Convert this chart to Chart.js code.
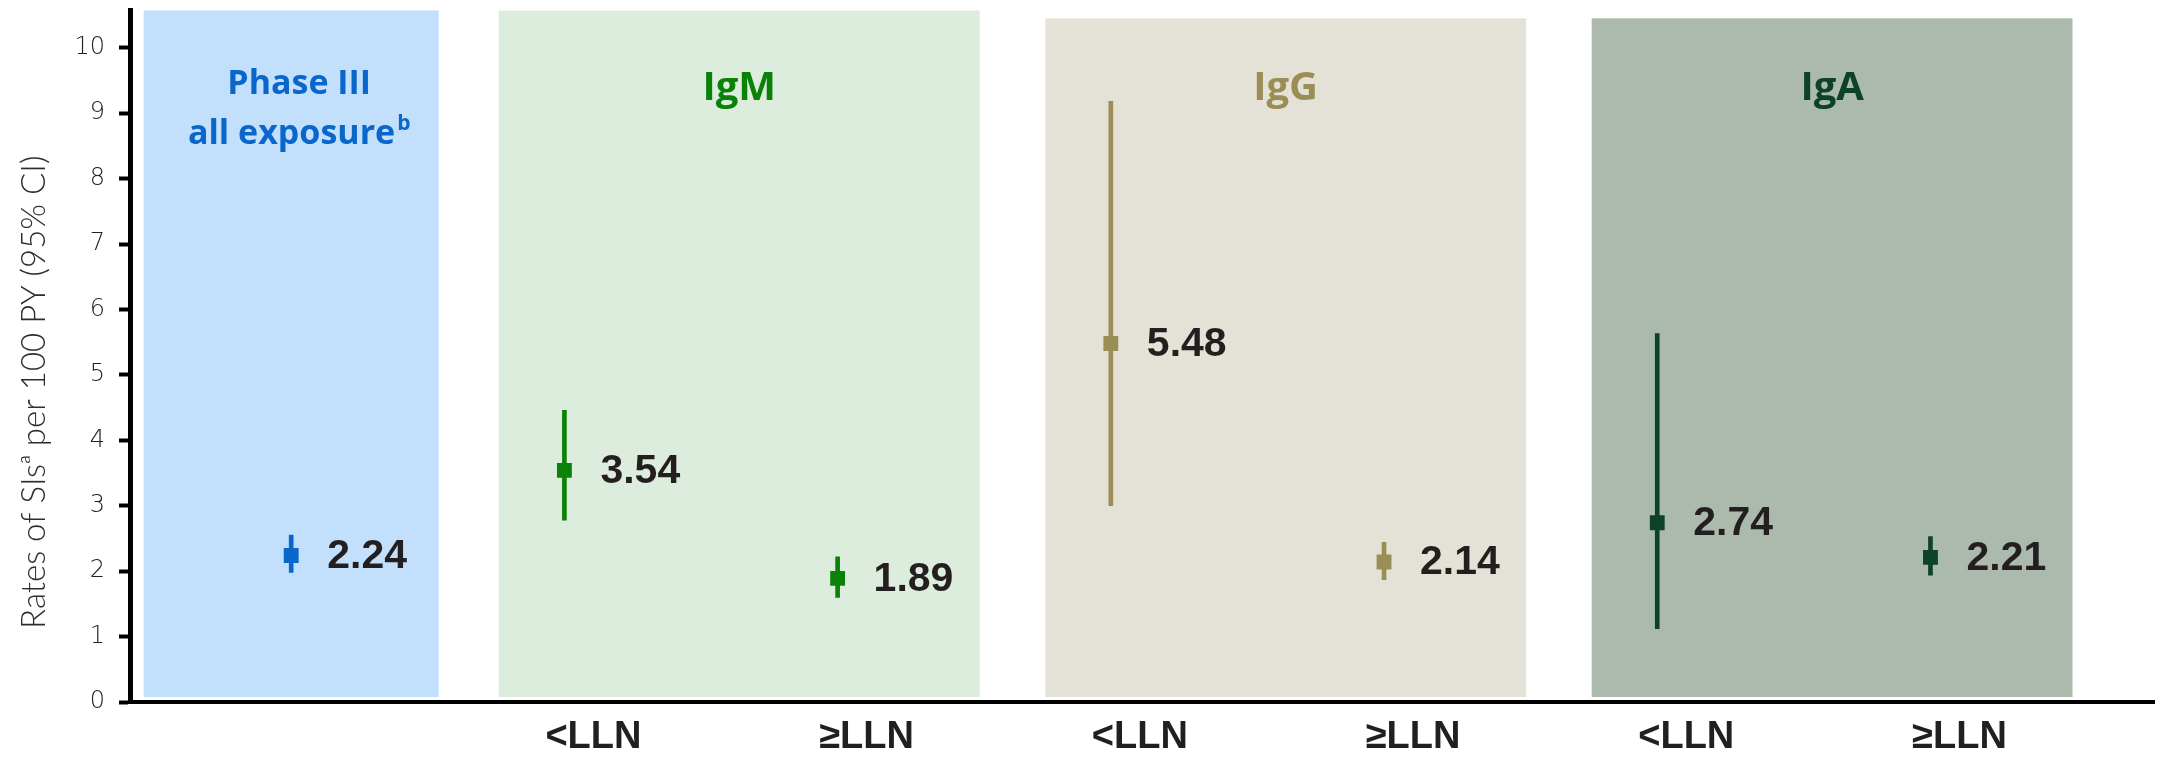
<!DOCTYPE html>
<html>
<head>
<meta charset="utf-8">
<script src="https://cdn.jsdelivr.net/npm/chart.js@4.4.1/dist/chart.umd.min.js"></script>
<style>
  html, body { margin: 0; padding: 0; background: #ffffff; }
  #wrap { width: 2165px; height: 757px; position: relative; }
</style>
</head>
<body>
<div id="wrap"><canvas id="chart"></canvas></div>
<script>
// ---- data ----
const groupTitles = [['Phase III', 'all exposure'], ['IgM'], ['IgG'], ['IgA']];
const groupNotes = ['b', '', '', ''];
const xLabels = ['', '<LLN', '\u2265LLN', '<LLN', '\u2265LLN', '<LLN', '\u2265LLN'];
const pointGroup = [0, 1, 1, 2, 2, 3, 3];
const rates = [2.24, 3.54, 1.89, 5.48, 2.14, 2.74, 2.21];
const ciLow = [1.98, 2.78, 1.60, 3.00, 1.87, 1.12, 1.94];
const ciHigh = [2.55, 4.46, 2.22, 9.18, 2.44, 5.63, 2.53];
const yTicks = [0, 1, 2, 3, 4, 5, 6, 7, 8, 9, 10];
const yTitle = 'Rates of SIs\u1d43 per 100 PY (95% CI)';

// ---- styles ----
const groupInk = ['#0b66cc', '#0a820a', '#9b8d56', '#0e4228'];
const groupFill = ['#c2dffc', '#dcedde', '#e4e2d6', '#abbaac'];
const groupTop = [10.57, 10.57, 10.45, 10.45];
const pointInk = pointGroup.map(g => groupInk[g]);
const labelInk = '#231f20';
const labelFont = "bold 41px 'Liberation Sans', Arial, sans-serif";

// keep the plot area flush with the axis lines
const noScalePadding = s => {
  s.paddingTop = 0; s.paddingBottom = 0; s.paddingLeft = 0; s.paddingRight = 0;
};

// shaded panels behind each group, with the group name on top
const panelPlugin = {
  id: 'panels',
  beforeDatasetsDraw(chart) {
    const { ctx, scales: { x, y }, chartArea } = chart;
    ctx.save();
    groupTitles.forEach((lines, gi) => {
      const idx = pointGroup.map((p, i) => (p === gi ? i : -1)).filter(i => i >= 0);
      const single = idx.length === 1;
      const padL = single ? 0.54 : 0.24;
      const padR = single ? 0.54 : 0.52;
      const x0 = x.getPixelForValue(idx[0] - padL);
      const x1 = x.getPixelForValue(idx[idx.length - 1] + padR);
      const y0 = y.getPixelForValue(groupTop[gi]);
      const y1 = y.getPixelForValue(0) - 5;
      ctx.fillStyle = groupFill[gi];
      ctx.fillRect(x0, y0, x1 - x0, y1 - y0);

      const cx = (x0 + x1) / 2 + (single ? 8 : 0);
      ctx.fillStyle = groupInk[gi];
      ctx.textBaseline = 'alphabetic';
      if (lines.length === 1) {
        ctx.font = "bold 40px 'Open Sans', sans-serif";
        ctx.textAlign = 'center';
        ctx.fillText(lines[0], cx, chartArea.top + 89);
      } else {
        const big = "bold 34px 'Open Sans', sans-serif";
        const small = "bold 21px 'Open Sans', sans-serif";
        lines.forEach((line, li) => {
          const base = chartArea.top + 83 + li * 50;
          const note = li === lines.length - 1 ? groupNotes[gi] : '';
          ctx.font = big;
          const w = ctx.measureText(line).width;
          ctx.font = small;
          const wn = note ? ctx.measureText(note).width + 2 : 0;
          const left = cx - (w + wn) / 2;
          ctx.textAlign = 'left';
          ctx.font = big;
          ctx.fillText(line, left, base);
          if (note) {
            ctx.font = small;
            ctx.fillText(note, left + w + 2, base - 14);
          }
        });
      }
    });
    ctx.restore();
  }
};

// rotated y-axis title beside the tick labels
const yTitlePlugin = {
  id: 'yTitle',
  afterDraw(chart) {
    const { ctx, chartArea } = chart;
    ctx.save();
    ctx.translate(34, (chartArea.top + chartArea.bottom) / 2 + 36);
    ctx.rotate(-Math.PI / 2);
    ctx.font = "300 33px Lato, 'Open Sans', sans-serif";
    ctx.fillStyle = '#2e2e2e';
    ctx.textAlign = 'center';
    ctx.textBaseline = 'middle';
    ctx.fillText(yTitle, 0, 0);
    ctx.restore();
  }
};

// value printed to the right of each point estimate
const valueLabelPlugin = {
  id: 'valueLabels',
  afterDatasetsDraw(chart) {
    const { ctx } = chart;
    const meta = chart.getDatasetMeta(1);
    ctx.save();
    ctx.font = labelFont;
    ctx.fillStyle = labelInk;
    ctx.textAlign = 'left';
    ctx.textBaseline = 'middle';
    meta.data.forEach((pt, i) => {
      ctx.fillText(rates[i].toFixed(2), pt.x + 36, pt.y + 1);
    });
    ctx.restore();
  }
};

new Chart(document.getElementById('chart'), {
  type: 'scatter',
  data: {
    datasets: [
      {
        type: 'bar',
        label: '95% CI',
        data: rates.map((_, i) => ({ x: i, y: [ciLow[i], ciHigh[i]] })),
        backgroundColor: pointInk,
        borderWidth: 0,
        barThickness: 4,
        grouped: false,
        order: 2
      },
      {
        type: 'scatter',
        label: 'Rate of SIs per 100 PY',
        data: rates.map((v, i) => ({ x: i, y: v })),
        pointStyle: 'rect',
        pointRadius: 10.5,
        pointHoverRadius: 10.5,
        backgroundColor: pointInk,
        borderWidth: 0,
        order: 1
      }
    ]
  },
  options: {
    responsive: true,
    maintainAspectRatio: false,
    animation: false,
    devicePixelRatio: 1,
    layout: { padding: { top: 10, right: 4, bottom: 0, left: 0 } },
    plugins: { legend: { display: false }, tooltip: { enabled: false } },
    scales: {
      x: {
        type: 'linear',
        offset: false,
        min: -0.59,
        max: 6.82,
        afterBuildTicks: s => { s.ticks = xLabels.map((_, i) => ({ value: i })); },
        afterFit: s => { s.height = 55; noScalePadding(s); },
        ticks: {
          autoSkip: false,
          maxRotation: 0,
          labelOffset: 29,
          padding: 13,
          color: labelInk,
          font: { family: "'Liberation Sans Narrow', 'Liberation Sans', sans-serif", size: 38, weight: 'bold' },
          callback: v => xLabels[v] ?? ''
        },
        grid: { display: false, drawTicks: false, offset: false },
        border: { display: true, color: '#000000', width: 4 }
      },
      y: {
        min: 0,
        max: 10.57,
        afterBuildTicks: s => { s.ticks = yTicks.map(v => ({ value: v })); },
        afterFit: s => { s.width = 130; noScalePadding(s); },
        ticks: {
          padding: 14,
          color: '#222222',
          font: { family: "'DejaVu Sans', sans-serif", size: 24, weight: 200 }
        },
        grid: { drawOnChartArea: false, tickLength: 11, tickWidth: 4, tickColor: '#000000' },
        border: { display: true, color: '#000000', width: 5 },
        title: { display: false, text: yTitle }
      }
    }
  },
  plugins: [panelPlugin, valueLabelPlugin, yTitlePlugin]
});
</script>
</body>
</html>
